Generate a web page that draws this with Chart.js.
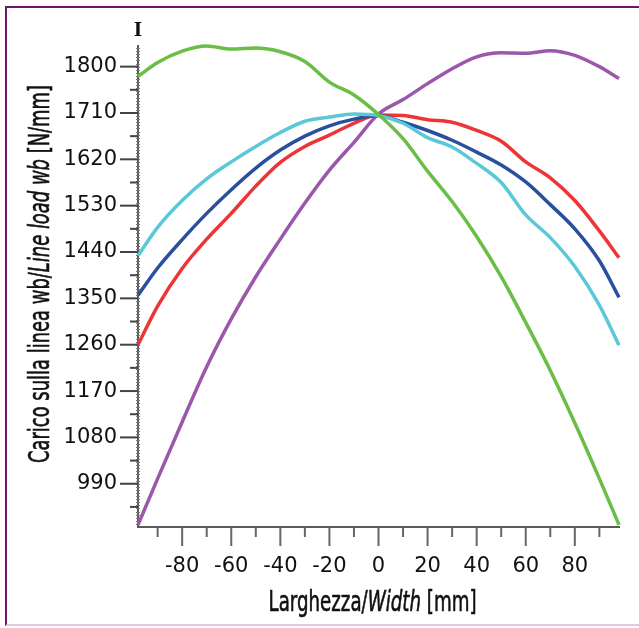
<!DOCTYPE html>
<html>
<head>
<meta charset="utf-8">
<script src="https://cdn.jsdelivr.net/npm/chart.js@4"></script>
<style>
  html, body { margin: 0; padding: 0; background: #fff; }
  #wrap { position: relative; width: 639px; height: 628px; overflow: hidden; }
  #frame { position: absolute; left: 5px; top: 6px; width: 640px; height: 616px;
           border-left: 2px solid #6d1670; border-top: 2px solid #6d1670; border-bottom: 2px solid #e2cbe2; }
  #chart { position: absolute; left: 0; top: 0; }
</style>
</head>
<body>
<div id="wrap">
  <div id="frame"></div>
  <canvas id="chart" width="639" height="628"></canvas>
</div>
<script>
// ===== Data =====
const widthMm = [-98, -90, -80, -70, -60, -50, -40, -30, -20, -10, 0, 10, 20, 30, 40, 50, 60, 70, 80, 90, 98];

const greenLoad  = [1781, 1808, 1830, 1840, 1834, 1836, 1829, 1810, 1770, 1745, 1707, 1660, 1597, 1538, 1470, 1392, 1303, 1210, 1108, 1000, 910];
const purpleLoad = [910, 1000, 1110, 1217, 1310, 1392, 1465, 1535, 1599, 1653, 1708, 1736, 1767, 1796, 1819, 1827, 1826, 1831, 1822, 1800, 1777];
const cyanLoad   = [1433, 1488, 1540, 1582, 1615, 1645, 1672, 1694, 1702, 1708, 1705, 1690, 1662, 1644, 1612, 1575, 1512, 1468, 1412, 1337, 1259];
const blueLoad   = [1356, 1409, 1464, 1515, 1561, 1603, 1638, 1665, 1685, 1698, 1705, 1692, 1676, 1657, 1634, 1609, 1576, 1532, 1485, 1423, 1352];
const redLoad    = [1260, 1335, 1408, 1465, 1515, 1568, 1614, 1645, 1667, 1690, 1706, 1705, 1697, 1692, 1676, 1655, 1615, 1584, 1540, 1481, 1429];

const yMajor = [990, 1080, 1170, 1260, 1350, 1440, 1530, 1620, 1710, 1800];
const yMinor = [945, 1035, 1125, 1215, 1305, 1395, 1485, 1575, 1665, 1755];
const xMajor = [-80, -60, -40, -20, 0, 20, 40, 60, 80];
const xMinor = [-90, -70, -50, -30, -10, 10, 30, 50, 70, 90];

const xTitle = [["Larghezza/", false], ["Width", true], [" [mm]", false]];
const yTitle = [["Carico sulla linea wb/", false], ["Line load wb", true], [" [N/mm]", false]];

const titleFamily = "'Liberation Sans Narrow', 'DejaVu Sans Condensed', 'Liberation Sans', sans-serif";
const tickFont = { family: "'DejaVu Sans', Verdana, sans-serif", size: 21 };

function series(values, color) {
    return {
        data: widthMm.map((x, i) => ({ x: x, y: values[i] })),
        borderColor: color,
        borderWidth: 3.5,
        pointRadius: 0,
        cubicInterpolationMode: "monotone",
        clip: false
    };
}

// draws a title made of plain/italic pieces, squeezed to a given width
function drawTitle(ctx, parts, cx, cy, targetWidth, rotate) {
    ctx.save();
    ctx.translate(cx, cy);
    if (rotate) ctx.rotate(-Math.PI / 2);
    let total = 0;
    parts.forEach(p => {
        ctx.font = (p[1] ? "italic " : "") + "28px " + titleFamily;
        total += ctx.measureText(p[0]).width;
    });
    const k = targetWidth / total;
    ctx.scale(k, 1);
    ctx.fillStyle = "#111";
    ctx.strokeStyle = "#111";
    ctx.lineWidth = 0.6;
    ctx.textBaseline = "middle";
    ctx.textAlign = "left";
    let pos = -total / 2;
    parts.forEach(p => {
        ctx.font = (p[1] ? "italic " : "") + "28px " + titleFamily;
        ctx.fillText(p[0], pos, 0);
        ctx.strokeText(p[0], pos, 0);
        pos += ctx.measureText(p[0]).width;
    });
    ctx.restore();
}

// ===== Axis lines, tick marks and titles =====
const axisDecor = {
    id: "axisDecor",
    beforeDatasetsDraw(chart) {
        const { ctx, chartArea: a, scales: { x, y } } = chart;
        ctx.save();
        ctx.strokeStyle = "#5a5a5a";
        ctx.lineWidth = 2;
        ctx.beginPath();
        ctx.moveTo(a.left, a.top);
        ctx.lineTo(a.left, a.bottom);
        ctx.lineTo(a.right + 1, a.bottom);
        ctx.stroke();

        // fine ticks along the y axis
        ctx.lineWidth = 1;
        ctx.strokeStyle = "#777";
        for (let v = 912; v <= 1840; v += 6) {
            const py = Math.round(y.getPixelForValue(v)) + 0.5;
            ctx.beginPath();
            ctx.moveTo(a.left - 2, py);
            ctx.lineTo(a.left + 2, py);
            ctx.stroke();
        }

        ctx.lineWidth = 2;
        ctx.strokeStyle = "#444";
        y.ticks.forEach(t => {
            const py = y.getPixelForValue(t.value);
            const len = yMajor.includes(t.value) ? 18 : 8;
            ctx.beginPath();
            ctx.moveTo(a.left - len, py);
            ctx.lineTo(a.left, py);
            ctx.stroke();
        });
        ctx.strokeStyle = "#666";
        x.ticks.forEach(t => {
            const px = x.getPixelForValue(t.value);
            const len = xMajor.includes(t.value) ? 19 : 10;
            ctx.beginPath();
            ctx.moveTo(px, a.bottom);
            ctx.lineTo(px, a.bottom + len);
            ctx.stroke();
        });

        ctx.fillStyle = "#111";
        ctx.font = "bold 18px 'DejaVu Serif', serif";
        ctx.textAlign = "center";
        ctx.textBaseline = "middle";
        ctx.fillText("I", a.left, 31);
        ctx.restore();
    },
    afterDraw(chart) {
        const { ctx, chartArea: a } = chart;
        drawTitle(ctx, xTitle, (a.left + a.right) / 2 - 6, 604, 208, false);
        drawTitle(ctx, yTitle, 42, (a.top + a.bottom) / 2 - 12, 378, true);
    }
};

new Chart(document.getElementById("chart"), {
    type: "line",
    data: {
        datasets: [
            series(greenLoad, "#6abd45"),
            series(cyanLoad, "#5ac8d8"),
            series(blueLoad, "#2a4f9f"),
            series(redLoad, "#ee3535"),
            series(purpleLoad, "#9b58aa")
        ]
    },
    options: {
        responsive: false,
        animation: false,
        layout: { padding: { left: 0, top: 45, right: 20, bottom: 0 } },
        plugins: { legend: { display: false }, tooltip: { enabled: false } },
        scales: {
            x: {
                type: "linear",
                min: -98,
                max: 98,
                border: { display: false },
                grid: { display: false, drawTicks: false },
                afterBuildTicks: s => { s.ticks = xMajor.concat(xMinor).sort((p, q) => p - q).map(v => ({ value: v })); },
                afterFit: s => { s.height = 101; },
                ticks: {
                    autoSkip: false,
                    maxRotation: 0,
                    padding: 27,
                    color: "#111",
                    font: tickFont,
                    callback: v => xMajor.includes(v) ? String(v) : ""
                }
            },
            y: {
                min: 906,
                max: 1842,
                border: { display: false },
                grid: { display: false, drawTicks: false },
                afterBuildTicks: s => { s.ticks = yMinor.concat(yMajor).sort((p, q) => p - q).map(v => ({ value: v })); },
                afterFit: s => { s.width = 138; },
                ticks: {
                    autoSkip: false,
                    padding: 21,
                    color: "#111",
                    font: tickFont,
                    callback: v => yMajor.includes(v) ? String(v) : ""
                }
            }
        }
    },
    plugins: [axisDecor]
});
</script>
</body>
</html>
